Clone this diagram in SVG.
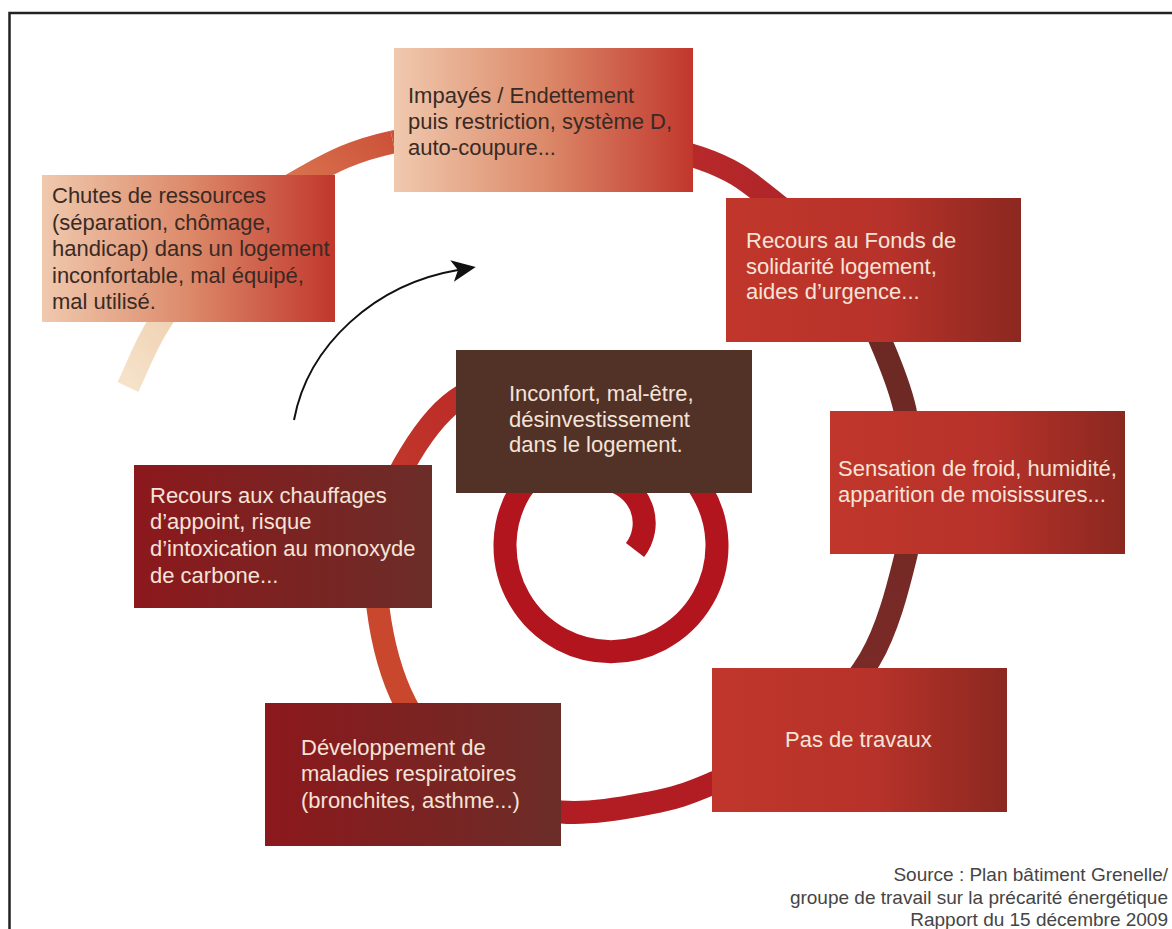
<svg xmlns="http://www.w3.org/2000/svg" width="1172" height="929" viewBox="0 0 1172 929">
<defs>
<style>
.lbl{font-family:"Liberation Sans",Arial,sans-serif;font-size:22px}
.dk{fill:#3a2a24}
.lt{fill:#f5e3d8}
.src{font-family:"Liberation Sans",Arial,sans-serif;font-size:19px;fill:#454545;text-anchor:end}
.sp{fill:none;stroke-width:23;stroke-linecap:butt}
</style>
<linearGradient id="gLight" x1="0" y1="0" x2="1" y2="0">
<stop offset="0" stop-color="#f0c9ae"/><stop offset="0.5" stop-color="#dc8a6a"/><stop offset="1" stop-color="#c1372c"/>
</linearGradient>
<linearGradient id="gRed" x1="0" y1="0" x2="1" y2="0">
<stop offset="0" stop-color="#c0362b"/><stop offset="0.55" stop-color="#b7322a"/><stop offset="1" stop-color="#8b2820"/>
</linearGradient>
<linearGradient id="gDark" x1="0" y1="0" x2="1" y2="0">
<stop offset="0" stop-color="#8c181c"/><stop offset="1" stop-color="#6b2d28"/>
</linearGradient>
<linearGradient id="sA" gradientUnits="userSpaceOnUse" x1="131" y1="382" x2="393" y2="142">
<stop offset="0" stop-color="#f5e2c9"/><stop offset="0.3" stop-color="#eecaa8"/><stop offset="0.7" stop-color="#da7450"/><stop offset="1" stop-color="#cc5339"/>
</linearGradient>
<linearGradient id="sB" gradientUnits="userSpaceOnUse" x1="393" y1="142" x2="845" y2="270">
<stop offset="0" stop-color="#cc5339"/><stop offset="0.55" stop-color="#bb2a2b"/><stop offset="1" stop-color="#a82227"/>
</linearGradient>
<linearGradient id="sC" gradientUnits="userSpaceOnUse" x1="0" y1="300" x2="0" y2="742">
<stop offset="0" stop-color="#6a2924"/><stop offset="1" stop-color="#7d2a27"/>
</linearGradient>
<linearGradient id="sF" gradientUnits="userSpaceOnUse" x1="383" y1="530" x2="530" y2="375">
<stop offset="0" stop-color="#c43d2a"/><stop offset="1" stop-color="#b82428"/>
</linearGradient>
<marker id="ah" viewBox="0 0 24 22" refX="6" refY="11" markerWidth="24" markerHeight="22" markerUnits="userSpaceOnUse" orient="auto">
<path d="M24,11 L0,0 L6,11 L0,22 Z" fill="#111"/>
</marker>
</defs>
<rect width="1172" height="929" fill="#fff"/>
<path d="M9.5 929 V13 H1172" fill="none" stroke="#222" stroke-width="2.5"/>

<g id="connectors">
<path class="sp" stroke="url(#sA)" d="M128 387 C138 366 144.3 346.5 160 322 C175.7 297.5 200.8 259.2 225 235 C249.2 210.8 277 192.5 305 177 C333 161.5 353 150.7 393 142"/>
<path class="sp" stroke="url(#sB)" d="M393 142 C433 133.3 493.8 122.3 545 125 C596.2 127.7 661.7 145 700 158 C738.3 171 750.8 184.3 775 203 C799.2 221.7 827.3 246.8 845 270"/>
<path class="sp" stroke="url(#sC)" d="M845 270 C862.7 293.2 871 318.7 881 342 C891 365.3 899.7 386.2 905 410 C910.3 433.8 912.8 460.8 913 485 C913.2 509.2 913.2 526 906 555 C898.8 584 888.5 627.8 870 659 C851.5 690.2 821.5 721.2 795 742"/>
<path class="sp" stroke="#b21c23" d="M795 742 C768.5 762.8 735.2 773.8 711 784 C686.8 794.2 675 798.3 650 803 C625 807.7 591 814.5 561 812 C531 809.5 496 806.2 470 788"/>
<path class="sp" stroke="#c8472d" d="M470 788 C444 769.8 420.3 733 405 703 C389.7 673 381.7 636.8 378 608 C374.3 579.2 378.7 553.8 383 530"/>
<path class="sp" stroke="url(#sF)" d="M383 530 C387.3 506.2 391.8 486.7 404 465 C416.2 443.3 435 415 456 400 C477 385 499.3 377.5 530 375"/>
<path class="sp" stroke="#b3151f" d="M530 375 C610 368 677 447 703 493 A106 106 0 1 1 519 493 C539.8 456.2 581.6 475.1 607.6 479.7 A44 44 0 0 1 635 550"/>
<path d="M294 420 C308 345 375 284 458 270" fill="none" stroke="#111" stroke-width="2" marker-end="url(#ah)"/>
</g>

<g id="n-impayes">
<rect x="394" y="48" width="299" height="144" fill="url(#gLight)"/>
<text class="lbl dk" x="408" y="103">Impayés / Endettement</text>
<text class="lbl dk" x="408" y="129">puis restriction, système D,</text>
<text class="lbl dk" x="408" y="155">auto-coupure...</text>
</g>
<g id="n-chutes">
<rect x="42" y="175" width="293" height="147" fill="url(#gLight)"/>
<text class="lbl dk" x="52" y="203">Chutes de ressources</text>
<text class="lbl dk" x="52" y="229.5">(séparation, chômage,</text>
<text class="lbl dk" x="52" y="256">handicap) dans un logement</text>
<text class="lbl dk" x="52" y="282.5">inconfortable, mal équipé,</text>
<text class="lbl dk" x="52" y="309">mal utilisé.</text>
</g>
<g id="n-fsl">
<rect x="726" y="198" width="295" height="144" fill="url(#gRed)"/>
<text class="lbl lt" x="746" y="248">Recours au Fonds de</text>
<text class="lbl lt" x="746" y="274">solidarité logement,</text>
<text class="lbl lt" x="746" y="299">aides d’urgence...</text>
</g>
<g id="n-froid">
<rect x="830" y="411" width="295" height="143" fill="url(#gRed)"/>
<text class="lbl lt" x="838" y="476">Sensation de froid, humidité,</text>
<text class="lbl lt" x="838" y="502">apparition de moisissures...</text>
</g>
<g id="n-travaux">
<rect x="712" y="668" width="295" height="144" fill="url(#gRed)"/>
<text class="lbl lt" x="785" y="747">Pas de travaux</text>
</g>
<g id="n-maladies">
<rect x="265" y="703" width="296" height="143" fill="url(#gDark)"/>
<text class="lbl lt" x="301" y="755">Développement de</text>
<text class="lbl lt" x="301" y="781">maladies respiratoires</text>
<text class="lbl lt" x="301" y="808">(bronchites, asthme...)</text>
</g>
<g id="n-chauffage">
<rect x="134" y="465" width="298" height="143" fill="url(#gDark)"/>
<text class="lbl lt" x="150" y="503">Recours aux chauffages</text>
<text class="lbl lt" x="150" y="529">d’appoint, risque</text>
<text class="lbl lt" x="150" y="556">d’intoxication au monoxyde</text>
<text class="lbl lt" x="150" y="583">de carbone...</text>
</g>
<g id="n-inconfort">
<rect x="456" y="350" width="296" height="143" fill="#523227"/>
<text class="lbl lt" x="509" y="401">Inconfort, mal-être,</text>
<text class="lbl lt" x="509" y="427">désinvestissement</text>
<text class="lbl lt" x="509" y="452">dans le logement.</text>
</g>
<g id="source">
<text class="src" x="1168" y="881">Source : Plan bâtiment Grenelle/</text>
<text class="src" x="1168" y="904">groupe de travail sur la précarité énergétique</text>
<text class="src" x="1168" y="926">Rapport du 15 décembre 2009</text>
</g>
</svg>
